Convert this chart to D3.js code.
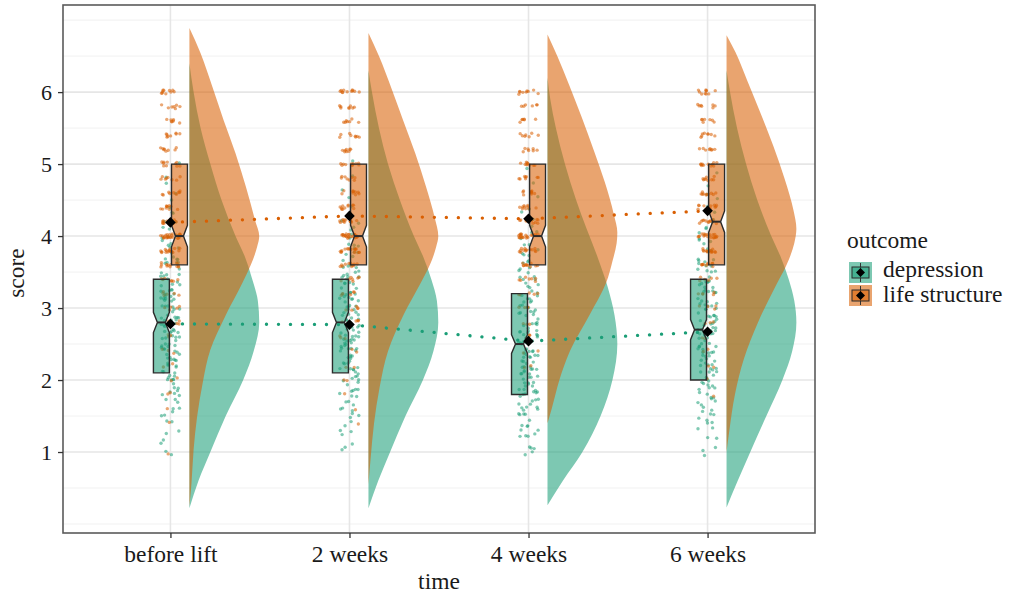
<!DOCTYPE html>
<html><head><meta charset="utf-8">
<script src="https://cdn.jsdelivr.net/npm/d3@7"></script>
<style>
body{margin:0;background:#fff}
text{font-family:"Liberation Serif","Times New Roman",serif;fill:#1a1a1a}
</style>
</head><body>
<svg id="c" width="1011" height="597"></svg>
<script>
// ---------------- data ----------------
const timeLabels = ["before lift", "2 weeks", "4 weeks", "6 weeks"];
const outcomes = ["depression", "life structure"];
const yTicks = [1, 2, 3, 4, 5, 6];
const depMeans = [2.78, 2.77, 2.54, 2.67];
const lifeMeans = [4.19, 4.28, 4.24, 4.35];
// [q1, notch low, median, notch high, q3]
const depBox = [[2.1, 2.66, 2.8, 2.94, 3.4], [2.1, 2.66, 2.8, 2.94, 3.4], [1.8, 2.37, 2.5, 2.63, 3.2], [2.0, 2.56, 2.7, 2.84, 3.4]];
const lifeBox = [[3.6, 3.85, 4.0, 4.15, 5.0], [3.6, 3.85, 4.0, 4.15, 5.0], [3.6, 3.85, 4.0, 4.15, 5.0], [3.6, 4.05, 4.2, 4.35, 5.0]];
// raw score levels and counts (jittered points)
const lifeLevels = [1.0,1.2,1.4,1.6,1.8,2.0,2.2,2.4,2.6,2.8,3.0,3.2,3.4,3.6,3.8,4.0,4.2,4.4,4.6,4.8,5.0,5.2,5.4,5.6,5.8,6.0];
const lifeCounts = [
  [1,0,1,1,2,2,2,3,3,4,5,6,7,12,16,24,11,10,9,8,10,8,8,7,7,10],
  [0,0,1,1,1,2,2,2,3,4,5,6,7,11,15,22,12,11,9,8,11,8,8,7,8,11],
  [0,0,0,0,0,0,2,2,3,3,4,5,7,11,14,20,11,10,9,8,10,7,7,6,6,9],
  [0,0,0,0,1,1,2,2,2,3,4,5,6,10,13,19,12,11,10,9,11,8,8,7,7,10]
];
const depLevels = [1.0,1.1,1.2,1.3,1.4,1.5,1.6,1.7,1.8,1.9,2.0,2.1,2.2,2.3,2.4,2.5,2.6,2.7,2.8,2.9,3.0,3.1,3.2,3.3,3.4,3.5,3.6,3.7,3.8,3.9,4.0,4.1,4.2,4.3,4.4,4.5,4.6,4.7,4.8,4.9,5.0];
const depCounts = [
  [2,1,1,2,2,2,3,3,4,4,5,5,5,6,6,6,7,7,7,6,6,6,6,5,5,4,4,4,3,3,3,2,2,2,1,1,1,1,1,0,1],
  [1,2,1,2,2,3,3,3,4,4,5,5,6,6,6,7,7,7,6,6,6,6,5,5,5,4,4,3,3,3,2,2,2,1,1,1,1,0,1,0,1],
  [3,2,3,3,4,4,5,5,6,6,6,7,7,7,7,6,6,6,6,5,5,5,4,4,4,3,3,3,2,2,2,2,1,1,1,1,0,1,0,1,0],
  [2,1,2,2,3,3,3,4,4,5,5,5,6,6,6,6,7,7,6,6,6,5,5,5,5,4,4,3,3,3,2,2,2,1,1,1,1,1,0,1,0]
];
// half-violin densities: [score, relative density]
const depViolin = [
  [[0.22,0],[0.6,0.13],[1.0,0.3],[1.5,0.52],[2.0,0.77],[2.4,0.92],[2.8,1.0],[3.1,0.98],[3.4,0.9],[3.7,0.8],[4.0,0.66],[4.5,0.46],[5.0,0.3],[5.5,0.16],[6.0,0.06],[6.4,0]],
  [[0.22,0],[0.6,0.14],[1.0,0.31],[1.5,0.53],[2.0,0.78],[2.4,0.93],[2.8,1.0],[3.1,0.98],[3.4,0.9],[3.7,0.79],[4.0,0.65],[4.5,0.45],[5.0,0.28],[5.5,0.15],[6.0,0.05],[6.3,0]],
  [[0.26,0],[0.6,0.22],[1.0,0.5],[1.5,0.76],[2.0,0.93],[2.5,1.0],[2.9,0.96],[3.3,0.86],[3.7,0.72],[4.1,0.56],[4.5,0.41],[5.0,0.25],[5.5,0.12],[5.9,0.04],[6.2,0]],
  [[0.23,0],[0.6,0.16],[1.0,0.34],[1.5,0.57],[2.0,0.8],[2.4,0.94],[2.8,1.0],[3.1,0.97],[3.4,0.89],[3.7,0.78],[4.0,0.64],[4.5,0.44],[5.0,0.28],[5.5,0.15],[6.0,0.05],[6.3,0]]
];
const lifeViolin = [
  [[0.24,0],[0.57,0.03],[1.03,0.06],[1.49,0.11],[1.96,0.19],[2.42,0.3],[2.88,0.51],[3.35,0.76],[3.6,0.88],[3.85,0.97],[4.0,1.0],[4.22,0.94],[4.68,0.81],[5.15,0.66],[5.61,0.49],[6.07,0.33],[6.54,0.16],[6.89,0]],
  [[0.55,0],[0.9,0.03],[1.4,0.08],[1.9,0.16],[2.4,0.28],[2.9,0.5],[3.35,0.75],[3.6,0.88],[3.85,0.97],[4.0,1.0],[4.25,0.95],[4.7,0.82],[5.15,0.67],[5.6,0.5],[6.05,0.33],[6.5,0.15],[6.82,0]],
  [[1.4,0],[1.6,0.06],[2.0,0.17],[2.4,0.32],[2.9,0.6],[3.35,0.84],[3.65,0.93],[3.9,0.99],[4.05,1.0],[4.3,0.95],[4.75,0.82],[5.2,0.66],[5.65,0.49],[6.1,0.31],[6.5,0.14],[6.8,0]],
  [[1.0,0],[1.3,0.04],[1.8,0.12],[2.3,0.25],[2.8,0.45],[3.3,0.7],[3.6,0.86],[3.9,0.97],[4.1,1.0],[4.35,0.96],[4.8,0.83],[5.25,0.67],[5.7,0.49],[6.15,0.3],[6.55,0.13],[6.79,0]]
];

// ---------------- layout / style ----------------
const colors = {"depression": "#1B9E77", "life structure": "#D95F02"};
const panel = {left: 63, right: 815, top: 5, bottom: 533};
const svg = d3.select("#c");

const x = d3.scaleLinear().domain([0.4, 4.6]).range([panel.left, panel.right]);
const y = d3.scaleLinear().domain([-0.125, 7.21]).range([panel.bottom, panel.top]);
const pos = i => i + 1;

const violinOffset = 0.106;
const violinMax = 0.39;
const boxOffsets = {"depression": [-0.095, -0.006], "life structure": [0.006, 0.095]};
const jitterHalf = 0.055;
const yJitter = {"depression": 0.05, "life structure": 0.03};
const fillOpacity = 0.57;

// gridlines
const grid = svg.append("g");
const minor = d3.range(0, 7.01, 0.5).filter(v => !yTicks.includes(v));
grid.selectAll("line.minor").data(minor).join("line")
  .attr("x1", panel.left).attr("x2", panel.right)
  .attr("y1", d => y(d)).attr("y2", d => y(d))
  .attr("stroke", "#EFEFEF").attr("stroke-width", 0.9);
grid.selectAll("line.major").data(yTicks).join("line")
  .attr("x1", panel.left).attr("x2", panel.right)
  .attr("y1", d => y(d)).attr("y2", d => y(d))
  .attr("stroke", "#E6E6E6").attr("stroke-width", 1.6);
grid.selectAll("line.vmajor").data(timeLabels).join("line")
  .attr("x1", (d, i) => x(pos(i))).attr("x2", (d, i) => x(pos(i)))
  .attr("y1", panel.top).attr("y2", panel.bottom)
  .attr("stroke", "#E6E6E6").attr("stroke-width", 1.6);

// violins
const plot = svg.append("g");
function violin(data, i, col) {
  const base = x(pos(i) + violinOffset);
  const wS = d3.scaleLinear().domain([0, 1]).range([0, x(violinMax) - x(0)]);
  const area = d3.area()
    .y(d => y(d[0]))
    .x0(base)
    .x1(d => base + wS(d[1]))
    .curve(d3.curveMonotoneY);
  plot.append("path").attr("d", area(data))
    .attr("fill", col).attr("fill-opacity", fillOpacity);
}
timeLabels.forEach((t, i) => {
  violin(depViolin[i], i, colors["depression"]);
  violin(lifeViolin[i], i, colors["life structure"]);
});

// jittered points (deterministic jitter)
const hash = (k, s) => { const v = Math.sin(k * 127.1 + s * 311.7) * 43758.5453; return v - Math.floor(v); };
function points(levels, counts, i, key, seed) {
  const pts = [];
  let k = 0;
  levels.forEach((lv, j) => {
    for (let c = 0; c < counts[j]; c++) {
      pts.push({s: lv,
        dx: (hash(k, seed) - 0.5) * 2 * jitterHalf,
        ds: (hash(k + 1000, seed) - 0.5) * 2 * yJitter[key]});
      k++;
    }
  });
  plot.append("g").selectAll("circle").data(pts).join("circle")
    .attr("cx", d => x(pos(i) + d.dx))
    .attr("cy", d => y(d.s + d.ds))
    .attr("r", 1.7)
    .attr("fill", colors[key]).attr("fill-opacity", 0.55);
}
timeLabels.forEach((t, i) => {
  points(depLevels, depCounts[i], i, "depression", 1.3 + i * 2.1);
  points(lifeLevels, lifeCounts[i], i, "life structure", 4.7 + i * 1.7);
});

// notched boxes
function box(stats, i, key) {
  const [q1, nl, md, nu, q3] = stats;
  const x0 = x(pos(i) + boxOffsets[key][0]);
  const x1 = x(pos(i) + boxOffsets[key][1]);
  const w = x1 - x0;
  const xi0 = x0 + w * 0.25, xi1 = x1 - w * 0.25;
  const p = d3.path();
  p.moveTo(x0, y(q3)); p.lineTo(x1, y(q3)); p.lineTo(x1, y(nu)); p.lineTo(xi1, y(md));
  p.lineTo(x1, y(nl)); p.lineTo(x1, y(q1)); p.lineTo(x0, y(q1)); p.lineTo(x0, y(nl));
  p.lineTo(xi0, y(md)); p.lineTo(x0, y(nu)); p.closePath();
  plot.append("path").attr("d", p.toString())
    .attr("fill", colors[key]).attr("fill-opacity", fillOpacity)
    .attr("stroke", "#2b2b2b").attr("stroke-width", 1.4);
  plot.append("line").attr("x1", xi0).attr("x2", xi1).attr("y1", y(md)).attr("y2", y(md))
    .attr("stroke", "#2b2b2b").attr("stroke-width", 2);
}
timeLabels.forEach((t, i) => {
  box(depBox[i], i, "depression");
  box(lifeBox[i], i, "life structure");
});

// mean lines
const meanLine = d3.line().x((d, i) => x(pos(i))).y(d => y(d));
[[depMeans, "depression"], [lifeMeans, "life structure"]].forEach(([m, key]) => {
  plot.append("path").attr("d", meanLine(m))
    .attr("fill", "none").attr("stroke", colors[key]).attr("stroke-width", 3.3)
    .attr("stroke-linecap", "round").attr("stroke-dasharray", "0.1 11.9");
});
const diamond = (cx, cy, r) => `M${cx},${cy - r}L${cx + r},${cy}L${cx},${cy + r}L${cx - r},${cy}Z`;
[depMeans, lifeMeans].forEach(m => {
  plot.append("g").selectAll("path").data(m).join("path")
    .attr("d", (d, i) => diamond(x(pos(i)), y(d), 5.3))
    .attr("fill", "#000");
});

// panel border
svg.append("rect").attr("x", panel.left).attr("y", panel.top)
  .attr("width", panel.right - panel.left).attr("height", panel.bottom - panel.top)
  .attr("fill", "none").attr("stroke", "#5a5a5a").attr("stroke-width", 1.6);

// axes
const yAxis = d3.axisLeft(y).tickValues(yTicks).tickSize(5).tickPadding(6).tickFormat(d3.format("d"));
const gy = svg.append("g").attr("transform", `translate(${panel.left},0)`).call(yAxis);
gy.select(".domain").remove();
gy.selectAll(".tick line").attr("stroke", "#333").attr("stroke-width", 1.3);
gy.selectAll(".tick text").attr("font-size", 22).attr("font-family", "Liberation Serif").attr("fill", "#1a1a1a");

const xAxis = d3.axisBottom(x).tickValues(timeLabels.map((t, i) => pos(i)))
  .tickFormat((d) => timeLabels[d - 1]).tickSize(5).tickPadding(7);
const gx = svg.append("g").attr("transform", `translate(0,${panel.bottom})`).call(xAxis);
gx.select(".domain").remove();
gx.selectAll(".tick line").attr("stroke", "#333").attr("stroke-width", 1.3);
gx.selectAll(".tick text").attr("font-size", 23.5).attr("font-family", "Liberation Serif").attr("fill", "#1a1a1a");

// axis titles
svg.append("text").attr("x", (panel.left + panel.right) / 2).attr("y", 589)
  .attr("text-anchor", "middle").attr("font-size", 23.5).text("time");
svg.append("text").attr("transform", `translate(24,${(panel.top + panel.bottom) / 2 + 4}) rotate(-90)`)
  .attr("text-anchor", "middle").attr("font-size", 23.5).text("score");

// legend
const lg = svg.append("g");
lg.append("text").attr("x", 847).attr("y", 248).attr("font-size", 23.5).text("outcome");
outcomes.forEach((o, k) => {
  const kx = 849, ky = 262 + k * 23, kw = 23, kh = 21;
  const g = lg.append("g");
  g.append("rect").attr("x", kx).attr("y", ky).attr("width", kw).attr("height", kh)
    .attr("fill", colors[o]).attr("fill-opacity", fillOpacity);
  g.append("line").attr("x1", kx + kw / 2).attr("x2", kx + kw / 2).attr("y1", ky + 1).attr("y2", ky + kh - 1)
    .attr("stroke", "#333").attr("stroke-width", 1);
  g.append("rect").attr("x", kx + 3).attr("y", ky + 5).attr("width", kw - 6).attr("height", kh - 10)
    .attr("fill", colors[o]).attr("fill-opacity", fillOpacity).attr("stroke", "#2b2b2b").attr("stroke-width", 1);
  g.append("path").attr("d", diamond(kx + kw / 2, ky + kh / 2, 4.5)).attr("fill", "#000");
  lg.append("text").attr("x", 883).attr("y", 277 + k * 25).attr("font-size", 23.5).text(o);
});
</script>
</body></html>
